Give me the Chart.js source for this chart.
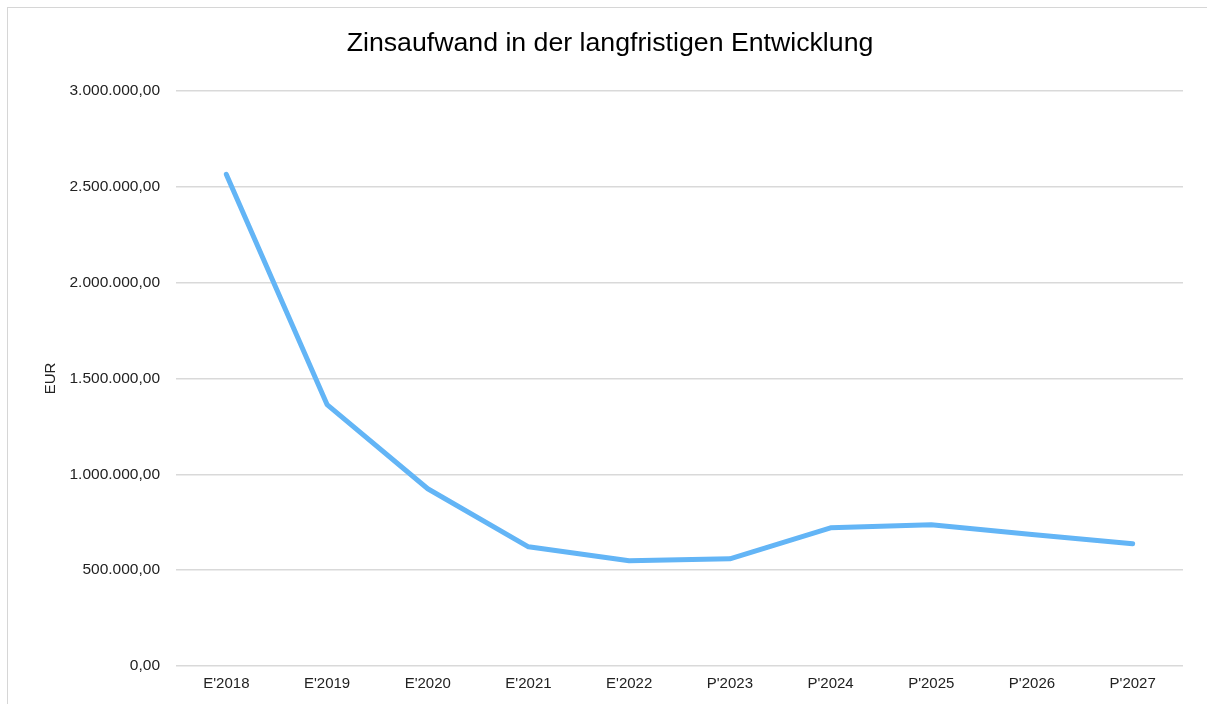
<!DOCTYPE html>
<html>
<head>
<meta charset="utf-8">
<script src="https://cdn.jsdelivr.net/npm/chart.js@4"></script>
<style>
  html, body { margin: 0; padding: 0; background: #fff; overflow: hidden; }
  #wrap { position: relative; width: 1207px; height: 704px; overflow: hidden; }
  #frame { position: absolute; left: 7px; top: 7px; width: 1210px; height: 720px; border: 1px solid #d6d6d6; box-sizing: border-box; pointer-events: none; }
  canvas { position: absolute; left: 0; top: 0; }
</style>
</head>
<body>
<div id="wrap">
  <canvas id="c" width="1207" height="704"></canvas>
  <div id="frame"></div>
</div>
<script>
const chartTitle = "Zinsaufwand in der langfristigen Entwicklung";
const yAxisTitle = "EUR";
const categories = ["E'2018", "E'2019", "E'2020", "E'2021", "E'2022", "P'2023", "P'2024", "P'2025", "P'2026", "P'2027"];
const zinsaufwand = [2565000, 1364000, 925000, 622000, 549000, 559000, 721000, 737000, 686000, 638000];
const yTickValues = [0, 500000, 1000000, 1500000, 2000000, 2500000, 3000000];

function formatDE(v) {
  const parts = Math.round(v).toString().replace(/\B(?=(\d{3})+(?!\d))/g, ".");
  return parts + ",00";
}

const FONT = "Arial, 'Liberation Sans', sans-serif";

new Chart(document.getElementById('c'), {
  type: 'line',
  data: {
    labels: categories,
    datasets: [{
      label: 'Zinsaufwand',
      data: zinsaufwand,
      borderColor: '#63b5f6',
      backgroundColor: '#63b5f6',
      borderWidth: 5,
      borderCapStyle: 'round',
      borderJoinStyle: 'round',
      pointRadius: 0,
      tension: 0,
      fill: false
    }]
  },
  options: {
    responsive: false,
    animation: false,
    devicePixelRatio: 1,
    layout: { padding: { left: 37, right: 24, top: 0, bottom: 2 } },
    plugins: {
      legend: { display: false },
      tooltip: { enabled: false },
      title: {
        display: true,
        text: chartTitle,
        color: '#000',
        font: { family: FONT, size: 26.7, weight: 'normal' },
        padding: { top: 28, bottom: 31 }
      }
    },
    scales: {
      x: {
        offset: true,
        grid: { display: false, drawTicks: false },
        border: { display: false },
        ticks: {
          color: '#222',
          font: { family: FONT, size: 15 },
          padding: 9,
          maxRotation: 0,
          autoSkip: false
        }
      },
      y: {
        min: 0,
        max: 3000000,
        afterFit: function (scale) { scale.width = 139; },
        afterBuildTicks: function (scale) { scale.ticks = yTickValues.map(v => ({ value: v })); },
        grid: { color: '#d9d9d9', lineWidth: 1.5, drawTicks: false },
        border: { display: false },
        ticks: {
          color: '#222',
          font: { family: FONT, size: 15.5 },
          padding: 16,
          callback: function (v) { return formatDE(v); }
        },
        title: {
          display: true,
          text: yAxisTitle,
          color: '#222',
          font: { family: FONT, size: 15 },
          padding: { top: 5, bottom: 0 }
        }
      }
    }
  }
});
</script>
</body>
</html>
